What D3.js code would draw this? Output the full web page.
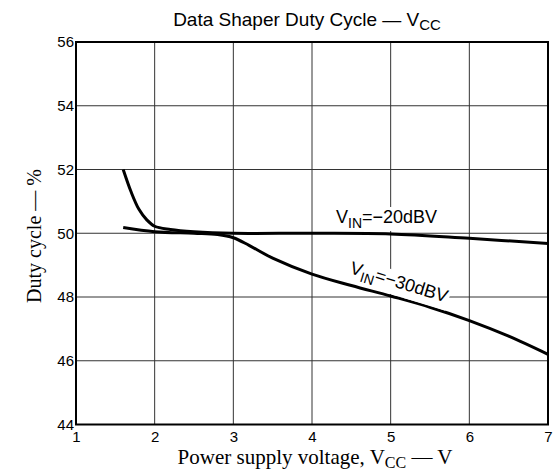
<!DOCTYPE html>
<html>
<head>
<meta charset="utf-8">
<script src="https://cdn.jsdelivr.net/npm/d3@7"></script>
<style>
  body { margin: 0; background: #fff; }
  svg { display: block; }
</style>
</head>
<body>
<div id="chart"></div>
<script>
// values
const xTicks = [1, 2, 3, 4, 5, 6, 7];
const yTicks = [44, 46, 48, 50, 52, 54, 56];

const vcc20  = [1.6, 1.7, 1.8, 1.9, 2.0, 2.2, 2.5, 3.0, 4.0, 5.0, 6.0, 7.0];
const duty20 = [52.0, 51.3, 50.75, 50.42, 50.22, 50.12, 50.05, 50.0, 50.0, 49.98, 49.84, 49.68];

const vcc30  = [1.6, 2.0, 2.5, 2.8, 3.0, 3.2, 3.5, 4.0, 4.5, 5.0, 5.5, 6.0, 6.5, 7.0];
const duty30 = [50.18, 50.05, 50.0, 49.96, 49.86, 49.62, 49.22, 48.72, 48.36, 48.03, 47.68, 47.26, 46.77, 46.2];

const W = 560, H = 471;
const margin = {top: 42, right: 12, bottom: 46.5, left: 76};

const svg = d3.select("#chart")
  .append("svg")
    .attr("width", W)
    .attr("height", H);

const x = d3.scaleLinear().domain([1, 7]).range([margin.left, W - margin.right]);
const y = d3.scaleLinear().domain([44, 56]).range([H - margin.bottom, margin.top]);

// grid
svg.append("g")
  .selectAll("line")
  .data(xTicks.slice(1, -1))
  .join("line")
    .attr("x1", d => x(d)).attr("x2", d => x(d))
    .attr("y1", y(44)).attr("y2", y(56))
    .attr("stroke", "#333").attr("stroke-width", 1);

svg.append("g")
  .selectAll("line")
  .data(yTicks.slice(1, -1))
  .join("line")
    .attr("x1", x(1)).attr("x2", x(7))
    .attr("y1", d => y(d)).attr("y2", d => y(d))
    .attr("stroke", "#333").attr("stroke-width", 1);

// axes (labels only)
const xAxis = svg.append("g")
  .attr("transform", `translate(0, ${y(44)})`)
  .call(d3.axisBottom(x).tickValues(xTicks).tickFormat(d3.format("d")).tickSize(0).tickPadding(7));
const yAxis = svg.append("g")
  .attr("transform", `translate(${x(1)}, 0)`)
  .call(d3.axisLeft(y).tickValues(yTicks).tickFormat(d3.format("d")).tickSize(0).tickPadding(2));
[xAxis, yAxis].forEach(a => {
  a.select(".domain").remove();
  a.selectAll("text")
    .attr("fill", "#000")
    .style("font-family", "Liberation Sans, Arial, sans-serif")
    .style("font-size", "15px");
});

// curves
const line = d3.line()
  .x(d => x(d[0]))
  .y(d => y(d[1]))
  .curve(d3.curveCatmullRom.alpha(0.5));

svg.append("path")
  .datum(d3.zip(vcc20, duty20))
  .attr("d", line)
  .attr("fill", "none").attr("stroke", "#000").attr("stroke-width", 3);

svg.append("path")
  .datum(d3.zip(vcc30, duty30))
  .attr("d", line)
  .attr("fill", "none").attr("stroke", "#000").attr("stroke-width", 3);

// frame
svg.append("rect")
  .attr("x", x(1)).attr("y", y(56))
  .attr("width", x(7) - x(1)).attr("height", y(44) - y(56))
  .attr("fill", "none").attr("stroke", "#000").attr("stroke-width", 2);

// curve labels with white backing
function curveLabel(tx, ty, angle, value) {
  const g = svg.append("g")
    .attr("transform", `translate(${tx}, ${ty}) rotate(${angle})`);
  const bg = g.append("rect").attr("fill", "#fff");
  const t = g.append("text")
    .style("font-family", "Liberation Sans, Arial, sans-serif")
    .style("font-size", "18px")
    .attr("fill", "#000");
  t.append("tspan").text("V");
  t.append("tspan").attr("dy", 5).style("font-size", "14px").text("IN");
  t.append("tspan").attr("dy", -5).text("=" + value + "dBV");
  const b = t.node().getBBox();
  bg.attr("x", b.x - 2).attr("y", b.y).attr("width", b.width + 4).attr("height", b.height);
}
curveLabel(336, 223, 0, "\u221220");
curveLabel(349, 273, 17, "\u221230");

// title
const title = svg.append("text")
  .attr("x", 307).attr("y", 26)
  .attr("text-anchor", "middle")
  .style("font-family", "Liberation Sans, Arial, sans-serif")
  .style("font-size", "19px");
title.append("tspan").text("Data Shaper Duty Cycle \u2014 V");
title.append("tspan").attr("dy", 4).style("font-size", "15px").text("CC");

// x axis title
const xt = svg.append("text")
  .attr("x", 315).attr("y", 464)
  .attr("text-anchor", "middle")
  .style("font-family", "Liberation Serif, Times New Roman, serif")
  .style("font-size", "21px");
xt.append("tspan").text("Power supply voltage, V");
xt.append("tspan").attr("dy", 4).style("font-size", "16px").text("CC");
xt.append("tspan").attr("dy", -4).text(" \u2014 V");

// y axis title
svg.append("text")
  .attr("transform", "translate(41, 236) rotate(-90)")
  .attr("text-anchor", "middle")
  .style("font-family", "Liberation Serif, Times New Roman, serif")
  .style("font-size", "20px")
  .text("Duty cycle \u2014 %");
</script>
</body>
</html>
